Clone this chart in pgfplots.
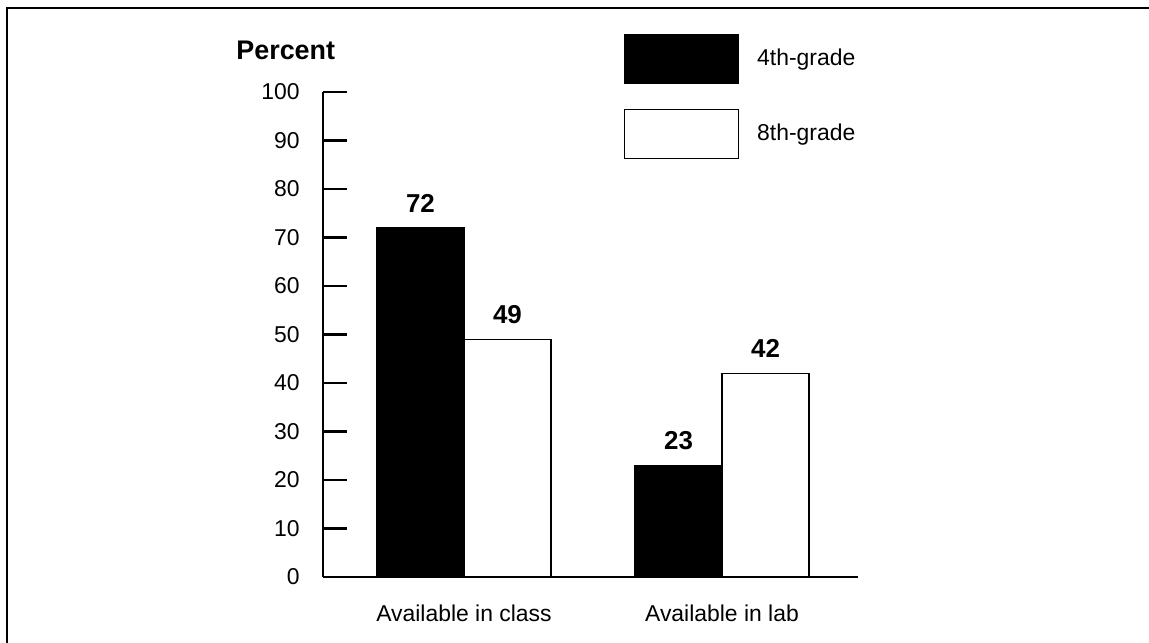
\documentclass[border=0pt]{standalone}
\usepackage{fontspec}
\setmainfont{Liberation Sans}
\usepackage{pgfplots}
\pgfplotsset{compat=1.18}
\pgfplotsset{
  boxlegend/.style={legend image code/.code={%
    \draw[##1, line width=0.6bp] (0bp,-12.25bp) rectangle (57bp,12.25bp);}},
}
\begin{document}
\begin{tikzpicture}
\useasboundingbox (0,0) rectangle (574.5bp,321.5bp);
% page frame (top and left edges)
\draw[line width=0.9bp] (3.5bp,0) -- (3.5bp,317.5bp) -- (574.5bp,317.5bp);
\begin{axis}[
  at={(161.5bp,33bp)}, anchor=south west,
  scale only axis, width=267.5bp, height=242.5bp,
  clip=false,
  xmin=-0.5465, xmax=1.5271, ymin=0, ymax=100,
  axis x line=bottom, axis y line=left,
  axis line style={-, line width=1.2bp},
  ybar=0pt, bar width=43.5bp,
  xtick={0,1}, xticklabels={Available in class, Available in lab},
  x tick style={draw=none},
  ytick={0,10,...,100},
  tick align=inside,
  major tick length=12bp,
  y tick style={line width=1.2bp, black},
  tick label style={font=\fontsize{11.5}{13}\selectfont},
  /pgf/number format/assume math mode=true,
  yticklabel style={anchor=east, xshift=-8.2bp},
  xticklabel style={anchor=north, yshift=-10.2bp},
  nodes near coords,
  every node near coord/.append style={font=\fontsize{13}{15}\selectfont\bfseries, yshift=4.2bp},
  legend style={at={(0.5626,1.1196)}, anchor=north west, draw=none, fill=none,
    inner sep=0pt, outer sep=0pt, row sep=12.25bp, column sep=9bp,
    font=\fontsize{11.5}{13}\selectfont, nodes={inner sep=0pt}},
  legend cell align=left,
]
\addplot[fill=black, draw=black, line width=0.6bp, boxlegend] coordinates {(0,72) (1,23)};
\addplot[fill=white, draw=black, line width=0.6bp, boxlegend] coordinates {(0,49) (1,42)};
\legend{4th-grade, 8th-grade}
\node[anchor=base west, inner sep=0pt, font=\fontsize{13.5}{15}\selectfont\bfseries]
  at (rel axis cs:-0.1626,1.068) {Percent};
\end{axis}
\end{tikzpicture}
\end{document}
